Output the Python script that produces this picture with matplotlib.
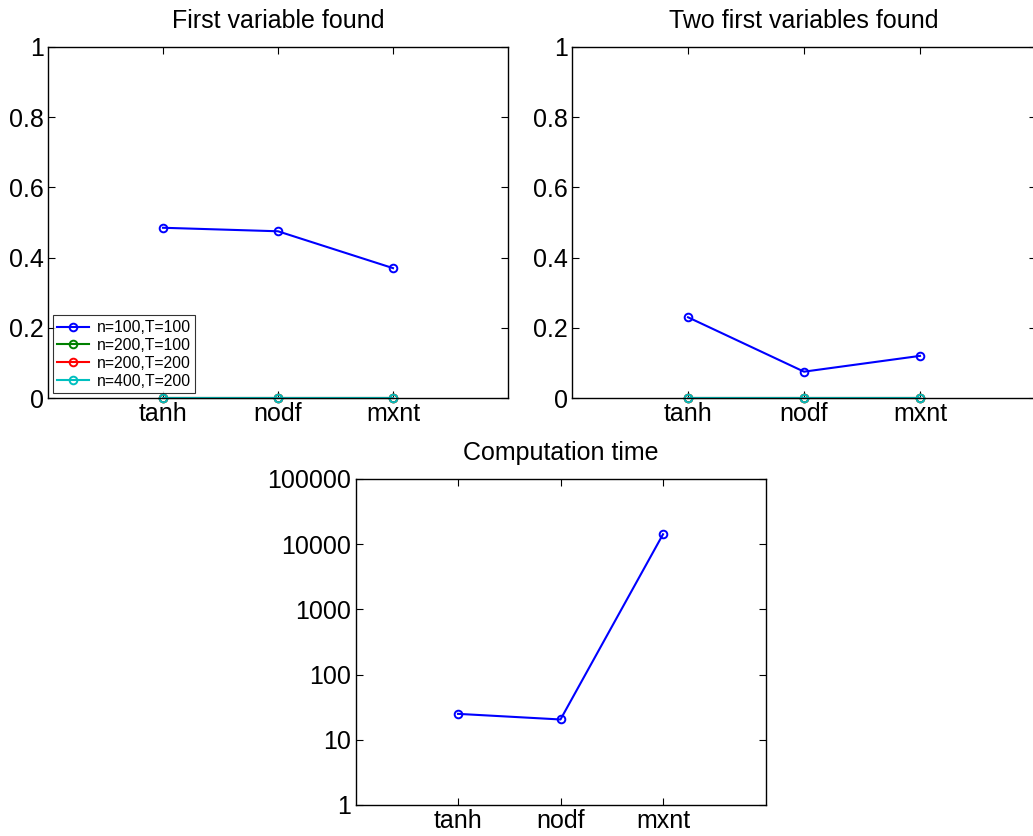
import numpy as np
import matplotlib
matplotlib.use('Agg')
import matplotlib.pyplot as plt
from matplotlib.ticker import FixedLocator, NullLocator

plt.rcParams['font.family'] = ['Liberation Sans', 'DejaVu Sans']

methods = ['tanh', 'nodf', 'mxnt']
series_labels = ['n=100,T=100', 'n=200,T=100', 'n=200,T=200', 'n=400,T=200']
series_colors = ['#0000ff', '#008000', '#ff0000', '#00bfbf']

first_found = [
    [0.485, 0.475, 0.37],
    [0.0, 0.0, 0.0],
    [0.0, 0.0, 0.0],
    [0.0, 0.0, 0.0],
]
two_found = [
    [0.23, 0.075, 0.12],
    [0.0, 0.0, 0.0],
    [0.0, 0.0, 0.0],
    [0.0, 0.0, 0.0],
]
comp_time = [25, 20.5, 14200]

W, H = 1033, 836
fig = plt.figure(figsize=(W / 100, H / 100), dpi=100)


def px_axes(left, top, right, bottom):
    return fig.add_axes([left / W, 1 - bottom / H, (right - left) / W, (bottom - top) / H])


def style(ax, size):
    ax.tick_params(direction='in', top=True, right=True, length=5, width=0.8,
                   labelsize=size, pad=3)
    for s in ax.spines.values():
        s.set_linewidth(1.0)


x = np.arange(1, len(methods) + 1)

ax1 = px_axes(48, 47, 508, 398)
ax2 = px_axes(572, 47, 1036, 398)
for ax, data, title in [(ax1, first_found, 'First variable found'),
                        (ax2, two_found, 'Two first variables found')]:
    for vals, lab, col in zip(data, series_labels, series_colors):
        ax.plot(x, vals, '-o', color=col, mfc='none', mec=col, ms=5.5, mew=1.4,
                lw=1.5, label=lab, clip_on=False)
    ax.set_xlim(0, 4)
    ax.set_ylim(0, 1)
    ax.set_xticks(x)
    ax.set_xticklabels(methods)
    ax.set_yticks([0, 0.2, 0.4, 0.6, 0.8, 1])
    ax.set_yticklabels(['0', '0.2', '0.4', '0.6', '0.8', '1'])
    ax.set_title(title, fontsize=18, pad=14)
    style(ax, 18)

leg = ax1.legend(loc='lower left', fontsize=11.3, frameon=True, fancybox=False,
                 edgecolor='black', borderpad=0.3, labelspacing=0.18,
                 handlelength=2.0, handletextpad=0.5, borderaxespad=0.3)
leg.get_frame().set_linewidth(0.8)

ax3 = px_axes(355.5, 479, 765.5, 805)
ax3.plot(x, comp_time, '-o', color=series_colors[0], mfc='none',
         mec=series_colors[0], ms=5.5, mew=1.4, lw=1.5)
ax3.set_yscale('log')
ax3.set_xlim(0, 4)
ax3.set_ylim(1, 100000)
ax3.set_xticks(x)
ax3.set_xticklabels(methods)
yt = [1, 10, 100, 1000, 10000, 100000]
ax3.yaxis.set_major_locator(FixedLocator(yt))
ax3.yaxis.set_minor_locator(NullLocator())
ax3.set_yticklabels([str(v) for v in yt])
ax3.set_title('Computation time', fontsize=18, pad=14)
style(ax3, 18)

fig.savefig('out.png', dpi=100)
